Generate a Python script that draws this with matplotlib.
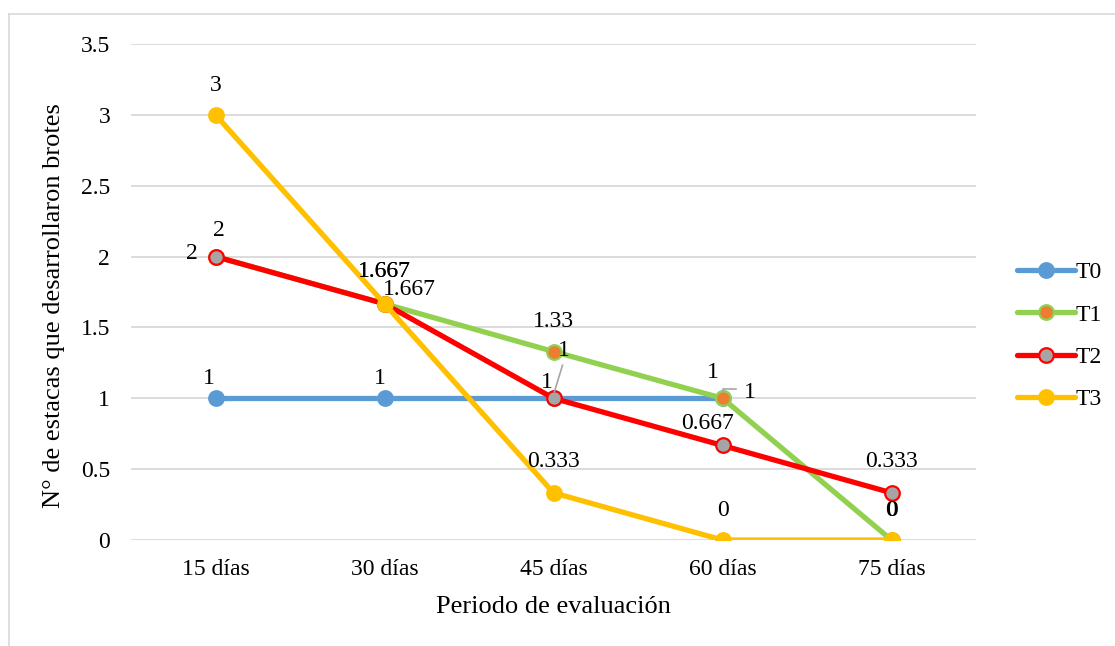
import numpy as np
import matplotlib
matplotlib.use("Agg")
import matplotlib.pyplot as plt
from matplotlib.lines import Line2D

# ── data ──────────────────────────────────────────────────────────────────────

periods = ["15 días", "30 días", "45 días", "60 días", "75 días"]
series_names = ["T0", "T1", "T2", "T3"]

t0 = [1, 1, 1, 1, np.nan]
t1 = [2, 1.667, 1.33, 1, 0]
t2 = [2, 1.667, 1, 0.667, 0.333]
t3 = [3, 1.667, 0.333, 0, 0]

# ── style ─────────────────────────────────────────────────────────────────────

plt.rcParams["font.family"] = ["Liberation Serif", "DejaVu Serif"]
FS = 17        # ticks, data labels, legend
FS_TITLE = 19  # axis titles
LW = 3.8
MS = 10.5

line_colors = ["#5B9BD5", "#92D050", "#FF0000", "#FFC000"]
face_colors = ["#5B9BD5", "#ED7D31", "#A5A5A5", "#FFC000"]
edge_colors = ["#5B9BD5", "#92D050", "#FF0000", "#FFC000"]

# label offsets per point, in pixels (dx right, dy up); None = no label
label_offsets = {
    "T0": [(-7, 20), (-5, 20), (10, 48), (27, 6), None],
    "T1": [(-24, 3), (25, 14), (0, 30), (-10, 26), (0, 30)],
    "T2": [(3, 26), (0, 32), (-7, 16), (-15, 22), (0, 31)],
    "T3": [(0, 29), (0, 32), (0, 31), (0, 29), (0.6, 30)],
}

fig = plt.figure(figsize=(11.15, 6.46), dpi=100)
ax = fig.add_axes([131 / 1115, 1 - 540 / 646, 845 / 1115, 496 / 646])

x = np.arange(len(periods))
all_values = [t0, t1, t2, t3]
for i, (name, vals) in enumerate(zip(series_names, all_values)):
    ax.plot(x, vals, color=line_colors[i], lw=LW, marker="o", ms=MS,
            mfc=face_colors[i], mec=edge_colors[i], mew=1.6,
            label=name, zorder=3 + i, solid_capstyle="round")

px = 72 / 100  # pixels -> points
for name, vals in zip(series_names, all_values):
    for j, (v, off) in enumerate(zip(vals, label_offsets[name])):
        if off is None or np.isnan(v):
            continue
        ax.annotate(f"{v:g}", (x[j], v), xytext=(off[0] * px, off[1] * px),
                    textcoords="offset points", ha="center", va="center",
                    fontsize=FS, zorder=10)

ax.set_xlim(-0.5, len(periods) - 0.5)
ax.set_ylim(0, 3.5)
ax.set_yticks(np.arange(0, 3.51, 0.5))
ax.set_yticklabels([f"{t:g}" for t in np.arange(0, 3.51, 0.5)])
ax.set_xticks(x)
ax.set_xticklabels(periods)
ax.tick_params(length=0, labelsize=FS)
ax.tick_params(axis="y", pad=15)
ax.tick_params(axis="x", pad=14)
ax.grid(axis="y", color="#D9D9D9", lw=1.3)
ax.set_axisbelow(True)
for s in ax.spines.values():
    s.set_visible(False)

ax.set_xlabel("Periodo de evaluación", fontsize=FS_TITLE, labelpad=11)
ax.set_ylabel("N° de estacas que desarrollaron brotes", fontsize=FS_TITLE)
ax.yaxis.set_label_coords(-0.078, 0.472)

# leader lines for the two T0 labels moved off their points (pixel offsets)
leaders = [
    (2, [(9, 33), (1, 7)]),
    (3, [(13, 9), (0, 9), (0, 6)]),
]
for j, pts in leaders:
    cx, cy = ax.transData.transform((x[j], t0[j]))
    xs = [cx + dx for dx, dy in pts]
    ys = [cy + dy for dx, dy in pts]
    fig.add_artist(Line2D(xs, ys, color="#A6A6A6", lw=1.2, transform=None,
                          zorder=10))

fig.legend(loc="center left", bbox_to_anchor=(1005 / 1115, 1 - 336 / 646),
           frameon=False, fontsize=FS, handlelength=2.45, handletextpad=0.02,
           labelspacing=0.88, borderpad=0)

# outer chart border
fig.add_artist(Line2D([9 / 1115, 1], [1 - 14 / 646] * 2, color="#D9D9D9",
                      lw=1.2, transform=fig.transFigure))
fig.add_artist(Line2D([9 / 1115] * 2, [0, 1 - 14 / 646], color="#D9D9D9",
                      lw=1.2, transform=fig.transFigure))

fig.savefig("out.png", dpi=100)
